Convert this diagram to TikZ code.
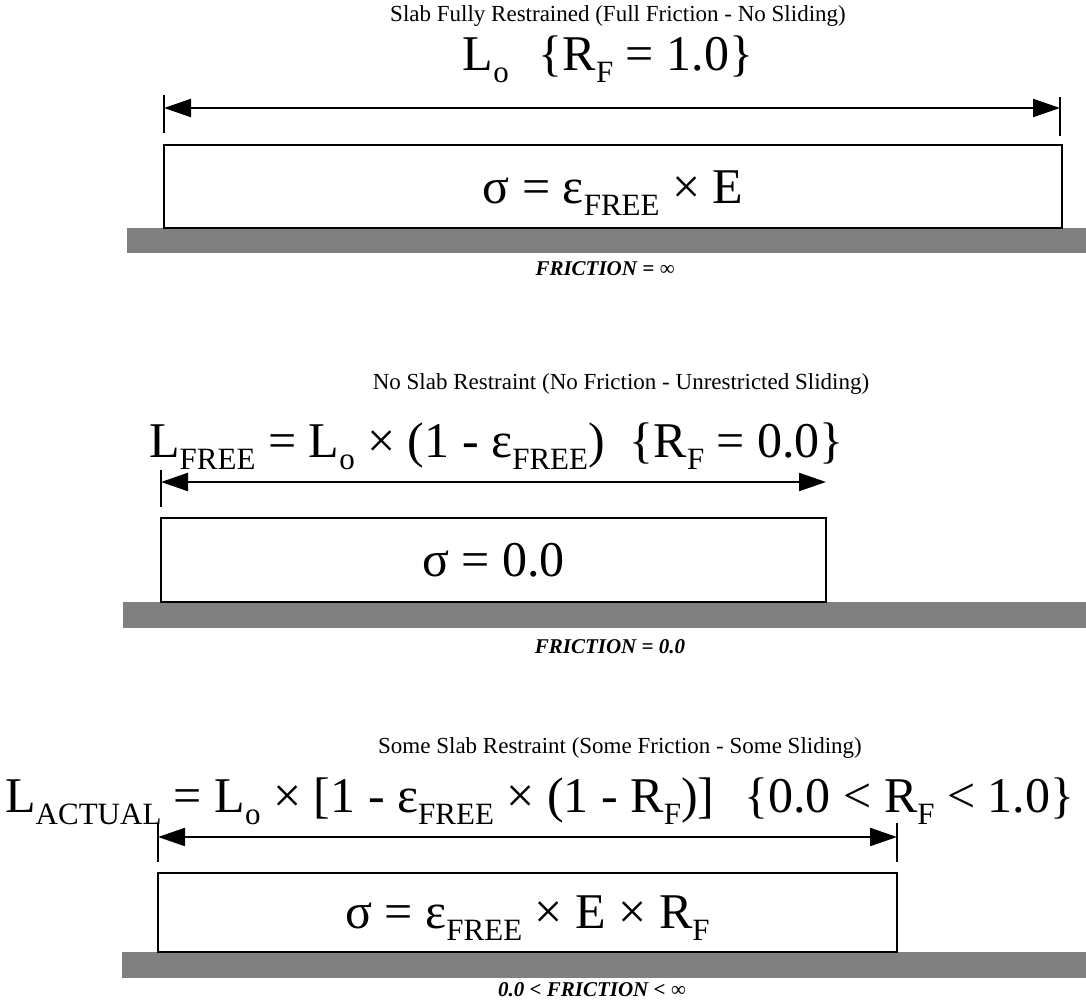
\documentclass[tikz,border=0pt]{standalone}
\usepackage{fontspec}
\setmainfont{Liberation Serif}
\usetikzlibrary{arrows.meta}
\newcommand\sbs[1]{\raisebox{-12pt}{\fontsize{31}{31}\selectfont #1}}
\tikzset{
  slab/.style={draw, line width=2.6pt, inner sep=0pt, fill=white},
  ground/.style={fill=black!50, draw=none},
  dimline/.style={line width=2.2pt, >={Triangle[length=27pt,width=18pt]}, <->},
  tickline/.style={line width=2.2pt},
  big/.style={font=\fontsize{50}{50}\selectfont, inner sep=0pt},
  title/.style={font=\fontsize{23}{23}\selectfont, inner sep=0pt},
  fric/.style={font=\fontsize{21}{21}\selectfont\bfseries\itshape, inner sep=0pt}
}
\begin{document}
\begin{tikzpicture}[x=1pt,y=-1pt]
\useasboundingbox[fill=white] (0,0) rectangle (1086,1006);

% ---------- Section 1
\node[title, anchor=base] (t1) at (618,22) {Slab Fully Restrained (Full Friction - No Sliding)};
\node[big, anchor=base] (f1) at (608,71) {L\sbs{o}\hspace{0.6em}\{R\sbs{F} = 1.0\}};
\coordinate (a1l) at (164,108);
\coordinate (a1r) at (1060,108);
\draw[tickline] (164,95) -- (164,133);
\draw[tickline] (1060,97) -- (1060,136);
\draw[dimline] (a1l) -- (a1r);
\fill[ground] (127,228) rectangle (1086,253);
\node[slab, minimum width=898pt, minimum height=83pt] (box1) at (613,186.5) {};
\node[big, anchor=base] (s1) at (613,203) {σ = ε\sbs{FREE} × E};
\node[fric, anchor=base] (r1) at (605,275) {FRICTION = ∞};

% ---------- Section 2
\node[title, anchor=base] (t2) at (621,389) {No Slab Restraint (No Friction - Unrestricted Sliding)};
\node[big, anchor=base west] (f2) at (149,457) {L\sbs{FREE} = L\sbs{o} × (1 - ε\sbs{FREE})\hspace{0.5em}\{R\sbs{F} = 0.0\}};
\coordinate (a2l) at (161,482);
\coordinate (a2r) at (826,482);
\draw[tickline] (161,470) -- (161,507);
\draw[dimline] (a2l) -- (a2r);
\fill[ground] (123,602) rectangle (1086,628);
\node[slab, minimum width=665pt, minimum height=84pt] (box2) at (493.5,560) {};
\node[big, anchor=base] (s2) at (493.5,576) {σ = 0.0};
\node[fric, anchor=base] (r2) at (610,653) {FRICTION = 0.0};

% ---------- Section 3
\node[title, anchor=base] (t3) at (620,753) {Some Slab Restraint (Some Friction - Some Sliding)};
\node[big, anchor=base west] (f3) at (5,812) {L\sbs{ACTUAL} = L\sbs{o} × [1 - ε\sbs{FREE} × (1 - R\sbs{F})]\hspace{0.6em}\{0.0 < R\sbs{F} < 1.0\}};
\coordinate (a3l) at (158,837);
\coordinate (a3r) at (897,837);
\draw[tickline] (158,823) -- (158,862);
\draw[tickline] (897,823) -- (897,862);
\draw[dimline] (a3l) -- (a3r);
\fill[ground] (122,952) rectangle (1086,978);
\node[slab, minimum width=739pt, minimum height=79pt] (box3) at (527.5,912.5) {};
\node[big, anchor=base] (s3) at (527.5,928) {σ = ε\sbs{FREE} × E × R\sbs{F}};
\node[fric, anchor=base] (r3) at (592,996) {0.0 < FRICTION < ∞};
\end{tikzpicture}
\end{document}
